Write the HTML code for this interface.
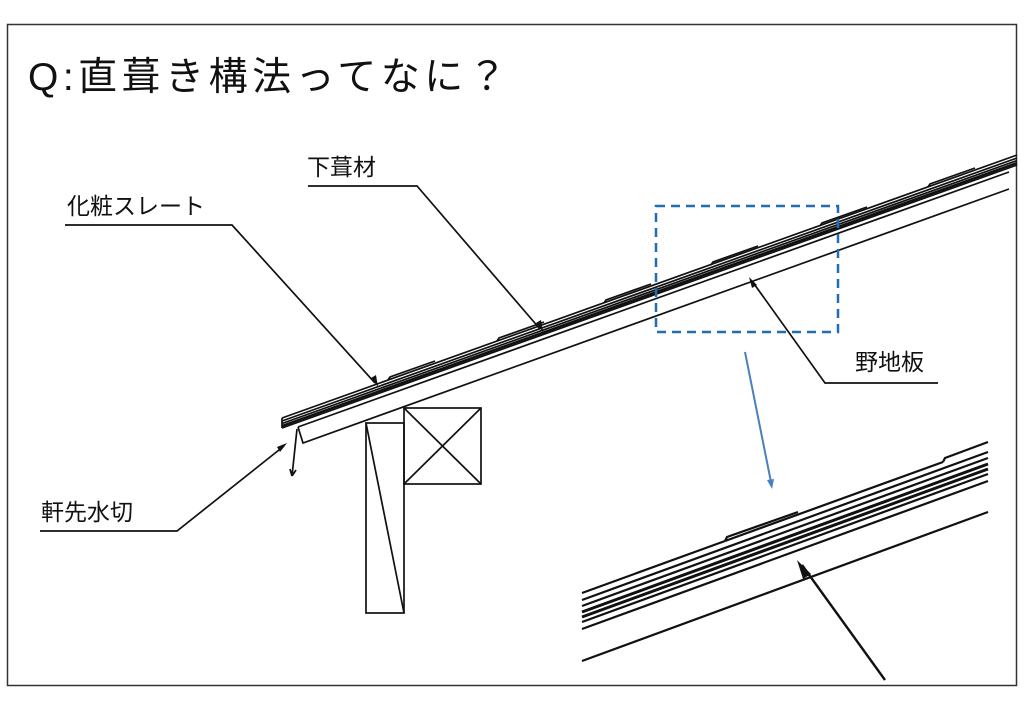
<!DOCTYPE html>
<html><head><meta charset="utf-8"><style>
html,body{margin:0;padding:0;background:#fff;width:1024px;height:720px;overflow:hidden}
svg{display:block}
text{font-family:"Liberation Sans","Noto Sans CJK JP",sans-serif;fill:#111}
</style></head><body>
<svg width="1024" height="720" viewBox="0 0 1024 720" xmlns="http://www.w3.org/2000/svg">
<rect x="7.5" y="24.5" width="1009" height="661" fill="#fff" stroke="#333" stroke-width="1.5"/>
<text x="28" y="90" font-size="39" letter-spacing="4.5">Q:直葺き構法ってなに？</text>

<g stroke="#111" fill="none" stroke-width="1.7">
<line x1="282" y1="418" x2="1017" y2="155"/>
<line x1="282" y1="421" x2="1017" y2="158"/>
<line x1="282" y1="423.5" x2="1017" y2="160.5"/>
<line x1="282" y1="426" x2="1017" y2="163" stroke-width="2.4"/>
<line x1="282" y1="428" x2="1017" y2="165"/>
<line x1="282" y1="418" x2="282" y2="428"/>
<line x1="298" y1="427" x2="1009" y2="172"/>
<path d="M388 380 l2 -3 l45 -16 M497 341 l2 -3 l45 -16 M604 303 l2 -3 l45 -16 M711 265 l2 -3 l45 -16 M820 226 l2 -3 l45 -16 M928 187 l2 -3 l45 -16"/>
<path d="M298 427 L303 443 L1009 189"/>
<path d="M297 429 L292 476 M292 476 l-2 -7 M292 476 l4 -6"/>
<rect x="366" y="423" width="38" height="190"/>
<line x1="366" y1="423" x2="404" y2="613"/>
<rect x="404" y="408" width="77" height="76"/>
<line x1="404" y1="408" x2="481" y2="484"/>
<line x1="481" y1="408" x2="404" y2="484"/>
<path d="M65 225 L232 225 L375 383"/>
<path d="M308 186 L417 186 L540 329"/>
<path d="M938 383 L825 383 L752 281"/>
<path d="M40 531 L177 531 L284 446"/>
</g>
<g fill="#111">
<path d="M378 387 l-7 -9 l5 -3 z"/>
<path d="M543 332 l-7 -9 l5 -3 z"/>
<path d="M749 277 l8 8 l-5 3 z"/>
<path d="M287 443 l-10 4 l3 5 z"/>
</g>
<text x="67" y="214" font-size="23">化粧スレート</text>
<text x="307" y="175" font-size="23">下葺材</text>
<text x="855" y="370" font-size="23">野地板</text>
<text x="41" y="520" font-size="23">軒先水切</text>

<rect x="656" y="206" width="182" height="126" fill="none" stroke="#1f6fb0" stroke-width="2.5" stroke-dasharray="9,6"/>
<line x1="745" y1="352" x2="771" y2="482" stroke="#4a7fc0" stroke-width="2"/>
<path d="M772 489 l-5 -9 l7 -1 z" fill="#4a7fc0"/>

<g stroke="#111" fill="none" stroke-width="2.2">
<line x1="582" y1="593" x2="725" y2="541"/>
<path d="M725 541 l2 -4 l71 -25 M725 541 L943 462 M943 462 l2 -4 l43 -16"/>
<line x1="582" y1="600" x2="988" y2="452"/>
<line x1="582" y1="606" x2="988" y2="458"/>
<line x1="582" y1="612" x2="988" y2="464" stroke-width="3"/>
<line x1="582" y1="617" x2="988" y2="469" stroke-width="3"/>
<line x1="582" y1="622" x2="988" y2="474"/>
<line x1="582" y1="629" x2="988" y2="481"/>
<line x1="582" y1="661" x2="988" y2="512"/>
<line x1="885" y1="680" x2="802" y2="565" stroke-width="2.4"/>
</g>
<path d="M797 560 l14 14 l-8 5 z" fill="#111"/>
</svg>
</body></html>
